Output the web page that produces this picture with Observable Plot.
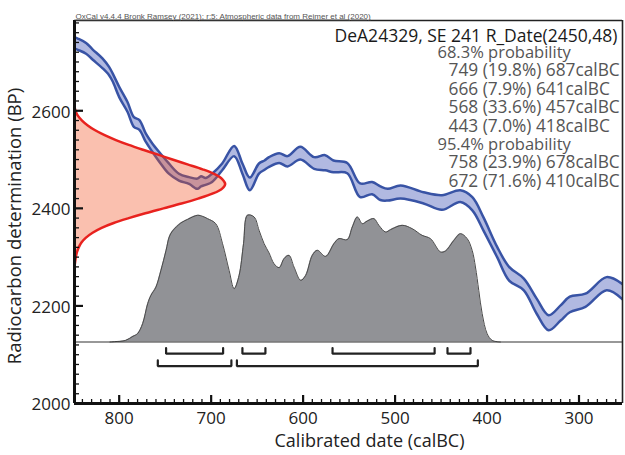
<!DOCTYPE html>
<html><head><meta charset="utf-8">
<script src="https://cdn.jsdelivr.net/npm/d3@7"></script>
<script src="https://cdn.jsdelivr.net/npm/@observablehq/plot@0.6"></script>
<style>
html,body{margin:0;padding:0;background:#fff;}
</style></head><body><div id="chart"></div>
<script>
// ---------- texts ----------
const headerText = "OxCal v4.4.4 Bronk Ramsey (2021); r:5: Atmospheric data from Reimer et al (2020)";
const sampleTitle = "DeA24329, SE 241 R_Date(2450,48)";
const rangeHeaders = ["68.3% probability", "95.4% probability"];
const rangeText68 = ["749 (19.8%) 687calBC", "666 (7.9%) 641calBC", "568 (33.6%) 457calBC", "443 (7.0%) 418calBC"];
const rangeText95 = ["758 (23.9%) 678calBC", "672 (71.6%) 410calBC"];
const xTitle = "Calibrated date (calBC)";
const yTitle = "Radiocarbon determination (BP)";
const xTicksMajor = [800, 700, 600, 500, 400, 300];
const yTicksMajor = [2000, 2200, 2400, 2600];

// ---------- calibration curve (1 sigma band, BP) ----------
const curveYears = [849,845,836,829,818,811,807,800,791,784,778,771,764,755,746,735,724,715,711,706,699,688,675,666,658,648,642,637,626,617,603,588,576,567,552,538,525,516,508,494,469,449,429,416,404,389,376,360,346,333,320,310,293,270,253];
const curveHigh = [2751,2748,2739,2726,2707,2690,2676,2649,2618,2587,2581,2553,2533,2512,2492,2471,2464,2461,2466,2462,2471,2492,2528,2492,2463,2492,2498,2505,2513,2507,2526,2505,2509,2498,2493,2451,2454,2445,2440,2447,2433,2427,2437,2423,2382,2321,2280,2256,2215,2181,2201,2219,2225,2259,2245];
const curveLow = [2728,2725,2717,2705,2687,2673,2660,2628,2598,2567,2561,2536,2516,2492,2471,2457,2450,2440,2445,2448,2454,2478,2507,2471,2437,2471,2479,2485,2493,2486,2500,2481,2478,2474,2472,2423,2429,2417,2416,2420,2410,2397,2413,2396,2355,2300,2252,2232,2184,2150,2170,2187,2198,2232,2214];

// ---------- radiocarbon date likelihood (relative) ----------
const rDateBP = [2280,2290,2300,2310,2320,2330,2340,2350,2360,2370,2380,2390,2400,2410,2420,2430,2440,2450,2460,2470,2480,2490,2500,2510,2520,2530,2540,2550,2560,2570,2580,2590,2600,2610];
const rDateDensity = [0,0.004,0.009,0.016,0.028,0.046,0.076,0.12,0.18,0.26,0.36,0.47,0.59,0.71,0.82,0.915,0.978,1,0.98,0.93,0.85,0.75,0.65,0.555,0.455,0.36,0.275,0.2,0.137,0.088,0.05,0.022,0.006,0];

// ---------- calibrated posterior (relative) ----------
const postYears = [810,805,793,785,780,774.5,769,765.5,760,754.6,749,745.6,742,733,725.6,714.8,709.4,704,695,687.6,680.5,675,669.6,664.8,660.5,653.3,647.9,642.4,637,631.6,626,620.7,615.3,609.9,602.6,597.2,590,584.5,575.5,566.5,561,552,546.5,541,535.6,530.2,523,517.6,510.3,504.9,492.3,481.5,470.6,461.5,450.6,445.2,436,428.9,421.6,416.2,412.6,409,405.3,399.9,394.4,385.5];
const postDensity = [0,0.003,0.013,0.045,0.066,0.145,0.303,0.368,0.434,0.566,0.724,0.829,0.876,0.939,0.968,1.0,0.992,0.974,0.934,0.776,0.566,0.421,0.526,0.776,1.0,0.987,0.882,0.776,0.703,0.618,0.587,0.658,0.684,0.592,0.487,0.526,0.684,0.724,0.676,0.776,0.816,0.808,0.908,0.987,0.934,0.955,0.974,0.921,0.868,0.887,0.921,0.895,0.842,0.816,0.711,0.718,0.803,0.855,0.816,0.724,0.592,0.408,0.224,0.066,0.013,0];

// ---------- ranges ----------
const range68Start = [749, 666, 568, 443];
const range68End = [687, 641, 457, 418];
const range95Start = [758, 672];
const range95End = [678, 410];

// ---------- layout ----------
const W = 625, H = 455;
const mL = 74, mR = 3, mT = 20, mB = 52;
const plotW = W - mL - mR;
const plotH = H - mT - mB;
const xDomain = [848.6, 252.7];
const yDomain = [2000, 2785];
const bpPerPx = (yDomain[1] - yDomain[0]) / plotH;
const yrPerPx = (xDomain[0] - xDomain[1]) / plotW;
const distBase = 2126;
const distHeight = 126.7 * bpPerPx;
const redWidth = 150.7 * yrPerPx;
const y68 = distBase - 11.6 * bpPerPx, y68top = y68 + 5.6 * bpPerPx;
const y95 = distBase - 24 * bpPerPx, y95top = y95 + 5.6 * bpPerPx;

const curve = curveYears.map((x, i) => ({x, hi: curveHigh[i], lo: curveLow[i]}));
const red = rDateBP.map((bp, i) => ({bp, d: rDateDensity[i]}));
const post = postYears.map((x, i) => ({x, d: postDensity[i]}));
const brackets = [];
range68Start.forEach((a, i) => {
  const b = range68End[i], g = "a" + i;
  brackets.push({g, x: a, y: y68top}, {g, x: a, y: y68}, {g, x: b, y: y68}, {g, x: b, y: y68top});
});
range95Start.forEach((a, i) => {
  const b = range95End[i], g = "b" + i;
  brackets.push({g, x: a, y: y95top}, {g, x: a, y: y95}, {g, x: b, y: y95}, {g, x: b, y: y95top});
});

const xMinor = d3.range(840, 250, -10).filter(v => v % 100 !== 0);
const yMinor = d3.range(2020, 2785, 20).filter(v => v % 200 !== 0);

const blueStroke = "#3853a5";
const textLines = [];
textLines.push(Plot.text([sampleTitle], {frameAnchor: "top-right", textAnchor: "end", lineAnchor: "middle", dx: -5, dy: 16, fontSize: 17.5, fill: "#1a1a1a"}));
const block = [
  {t: rangeHeaders[0], indent: false},
  ...rangeText68.map(t => ({t, indent: true})),
  {t: rangeHeaders[1], indent: false},
  ...rangeText95.map(t => ({t, indent: true}))
];
block.forEach((b, i) => {
  textLines.push(Plot.text([b.t], {frameAnchor: "top-left", textAnchor: "start", lineAnchor: "middle", dx: b.indent ? 374 : 363, dy: 32 + i * 18.4, fontSize: b.indent ? 17.3 : 16.5, fill: "#555"}));
});

const chart = Plot.plot({
  width: W, height: H,
  marginLeft: mL, marginRight: mR, marginTop: mT, marginBottom: mB,
  style: {fontFamily: "'Open Sans', sans-serif", fontSize: "17px", color: "#222", background: "#fff"},
  x: {domain: xDomain},
  y: {domain: yDomain},
  marks: [
    // calibration curve
    Plot.areaY(curve, {x: "x", y1: "lo", y2: "hi", fill: "rgb(60,80,180)", fillOpacity: 0.4, curve: "catmull-rom", clip: true}),
    Plot.line(curve, {x: "x", y: "hi", stroke: blueStroke, strokeWidth: 2.5, curve: "catmull-rom", clip: true}),
    Plot.line(curve, {x: "x", y: "lo", stroke: blueStroke, strokeWidth: 2.5, curve: "catmull-rom", clip: true}),
    // radiocarbon date
    Plot.areaX(red, {y: "bp", x1: () => xDomain[0], x2: d => xDomain[0] - d.d * redWidth, fill: "#f05020", fillOpacity: 0.36, curve: "catmull-rom"}),
    Plot.line(red, {x: d => xDomain[0] - d.d * redWidth, y: "bp", stroke: "#e8221e", strokeWidth: 2.5, curve: "catmull-rom"}),
    // posterior
    Plot.areaY(post, {x: "x", y1: () => distBase, y2: d => distBase + d.d * distHeight, fill: "#919296", curve: "catmull-rom"}),
    Plot.line(post, {x: "x", y: d => distBase + d.d * distHeight, stroke: "#4a4a4a", strokeWidth: 1, curve: "catmull-rom"}),
    Plot.ruleY([distBase], {stroke: "#333", strokeWidth: 1.2}),
    // brackets
    Plot.line(brackets, {x: "x", y: "y", z: "g", stroke: "#222", strokeWidth: 2.2, strokeLinejoin: "miter"}),
    // ticks
    Plot.tickY(yMinor, {y: d => d, insetRight: plotW - 5, stroke: "#111", strokeWidth: 1.3}),
    Plot.tickY(yTicksMajor, {y: d => d, insetRight: plotW - 9, stroke: "#111", strokeWidth: 2.2}),
    Plot.tickX(xMinor, {x: d => d, insetTop: plotH - 4, stroke: "#111", strokeWidth: 1.3}),
    Plot.tickX(xTicksMajor, {x: d => d, insetTop: plotH - 8, stroke: "#111", strokeWidth: 2.2}),
    // frame
    Plot.ruleY([yDomain[1]], {stroke: "#222", strokeWidth: 1.6}),
    Plot.ruleX([xDomain[1]], {stroke: "#222", strokeWidth: 1.6}),
    Plot.ruleX([xDomain[0]], {stroke: "#111", strokeWidth: 3}),
    Plot.ruleY([yDomain[0]], {stroke: "#111", strokeWidth: 3}),
    // axes labels
    Plot.axisY({ticks: yTicksMajor, tickSize: 0, tickPadding: 4, tickFormat: d => String(d), fontSize: 17, label: null, dy: 1.5}),
    Plot.axisX({ticks: xTicksMajor, tickSize: 0, tickPadding: 8, tickFormat: d => String(d), fontSize: 17, label: null}),
    Plot.text([xTitle], {frameAnchor: "bottom", textAnchor: "middle", lineAnchor: "middle", dx: 21, dy: 38, fontSize: 18, fill: "#222"}),
    Plot.text([yTitle], {frameAnchor: "left", textAnchor: "middle", lineAnchor: "middle", rotate: -90, dx: -59, dy: 14, fontSize: 18.5, fill: "#222"}),
    Plot.text([headerText], {frameAnchor: "top-left", textAnchor: "start", lineAnchor: "middle", dx: 1, dy: -4.5, fontSize: 8, fontFamily: "'Liberation Sans', Arial, sans-serif", fill: "#555"}),
    ...textLines
  ]
});
document.getElementById("chart").appendChild(chart);
d3.select(chart).selectAll("text").filter(function() { return this.textContent.startsWith("OxCal"); })
  .style("text-decoration", "underline");
</script>
</body></html>
